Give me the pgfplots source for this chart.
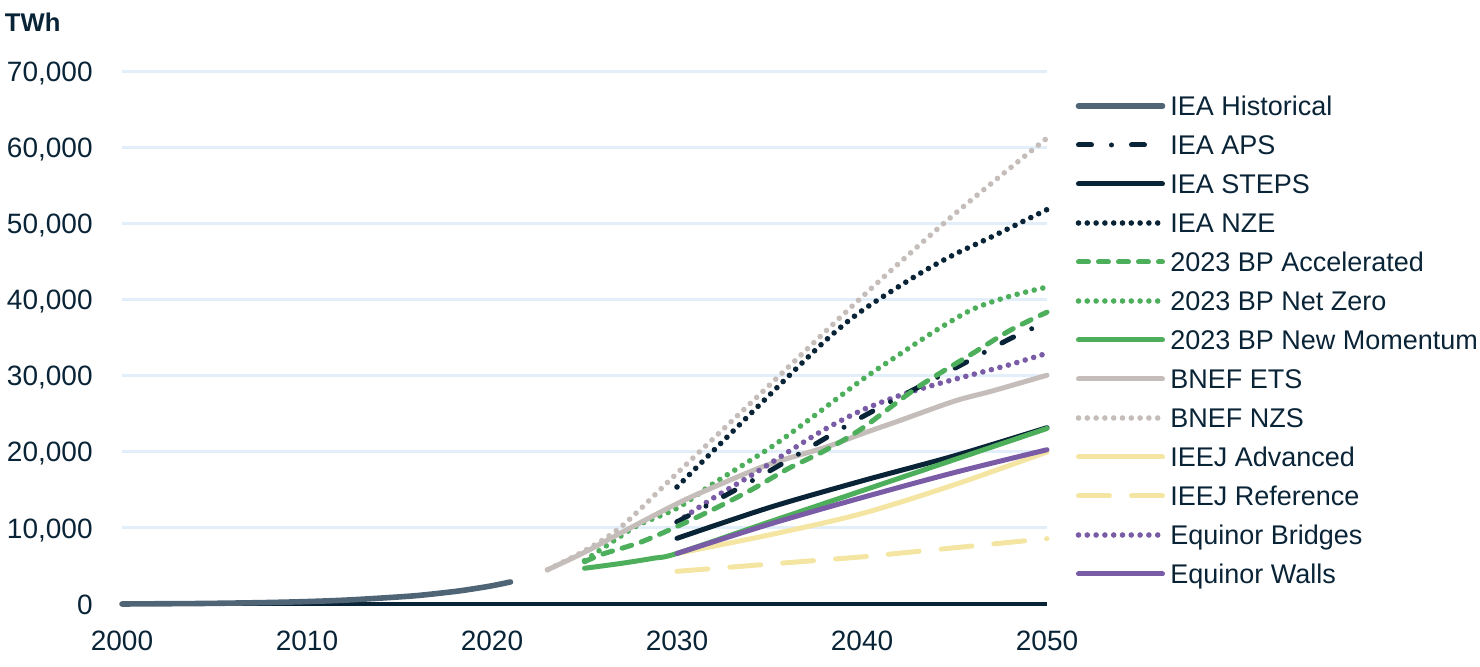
\documentclass[border=0pt]{standalone}
\usepackage{fontspec}
\setmainfont{Liberation Sans}
\usepackage{pgfplots}
\pgfplotsset{compat=1.18}
\definecolor{navy}{HTML}{0A2437}
\definecolor{slate}{HTML}{4F6576}
\definecolor{bpgreen}{HTML}{4DAF5B}
\definecolor{bnefgray}{HTML}{C4BDB9}
\definecolor{ieejyellow}{HTML}{F4E6A2}
\definecolor{eqpurple}{HTML}{7A5BA6}
\definecolor{gridblue}{HTML}{E2EEFA}
\tikzset{
  solidl/.style={line width=2.5bp, solid, line cap=round, line join=round},
  dotl/.style={line width=2.8bp, line cap=round, dash pattern=on 0bp off 4.4bp},
  dashl/.style={line width=2.5bp, line cap=round, dash pattern=on 5bp off 5bp},
  dashdotl/.style={line width=2.5bp, line cap=round, dash pattern=on 6.5bp off 10bp on 0bp off 10bp},
  longdashl/.style={line width=2.5bp, line cap=round, dash pattern=on 15.5bp off 11bp},
}
\begin{document}
\begin{tikzpicture}
\path[use as bounding box] (0,0) rectangle (740bp,333.5bp);
\node[anchor=base west, inner sep=0pt, text=navy, font=\fontsize{12.8bp}{14bp}\selectfont\bfseries] at (2.3bp,317.5bp) {TWh};
\begin{axis}[
  at={(61bp,31.5bp)}, anchor=south west,
  scale only axis, width=462.5bp, height=266bp,
  xmin=2000, xmax=2050, ymin=0, ymax=70000,
  xtick={2000,2010,...,2050}, ytick={0,10000,...,70000},
  scaled y ticks=false,
  axis lines*=left,
  y axis line style={draw=none},
  x axis line style={navy, line width=1.8bp, line cap=butt},
  major tick length=0pt,
  ymajorgrids, grid style={gridblue, line width=1.5bp, line cap=butt},
  clip=false,
  /pgf/number format/assume math mode=true,
  tick label style={font=\fontsize{14bp}{16bp}\selectfont, text=navy, inner sep=0pt, text height=10bp, text depth=0pt},
  yticklabel style={anchor=east, xshift=-14.5bp, /pgf/number format/1000 sep={,}},
  xticklabel style={anchor=north, yshift=-13bp, /pgf/number format/1000 sep={}},
  legend cell align=left,
  legend image code/.code={\draw[#1] (0bp,0bp) -- (42bp,0bp);},
  legend style={at={(axis description cs:1.031,0.9549)}, anchor=north west, draw=none, fill=none,
    inner sep=0pt, outer sep=0pt, row sep=9.5bp, column sep=2.5bp,
    font=\fontsize{13.5bp}{16bp}\selectfont,
    nodes={inner sep=0pt, text height=10bp, text depth=0pt, text=navy}},
]
% IEA Historical
\addplot[forget plot, slate, solidl, line width=2.8bp, smooth] coordinates {(2000,0) (2002,30) (2004,60) (2006,120) (2008,200) (2010,320) (2012,500) (2014,780) (2016,1120) (2018,1650) (2019,2000) (2020,2400) (2021,2900)};
% IEEJ Reference
\addplot[forget plot, ieejyellow, longdashl] coordinates {(2030,4300) (2040,6200) (2050,8600)};
% IEEJ Advanced
\addplot[forget plot, ieejyellow, solidl, smooth] coordinates {(2030,6650) (2035,9100) (2040,11900) (2045,15700) (2050,20000)};
% BNEF NZS
\addplot[forget plot, bnefgray, dotl, smooth] coordinates {(2023,4500) (2025,7000) (2027,10200) (2030,17200) (2035,28800) (2040,40400) (2045,51300) (2050,61300)};
% BP Net Zero
\addplot[forget plot, bpgreen, dotl, smooth] coordinates {(2025,5700) (2027,9000) (2028,10500) (2030,12600) (2032,15900) (2035,20500) (2037,24000) (2040,29500) (2042,32800) (2044,36000) (2046,38800) (2048,40500) (2050,41700)};
% BNEF ETS
\addplot[forget plot, bnefgray, solidl, smooth] coordinates {(2023,4500) (2025,6800) (2027,9400) (2030,13200) (2032,15400) (2035,18400) (2038,20600) (2040,22400) (2042,24100) (2045,26700) (2047,28000) (2050,30100)};
% Equinor Bridges
\addplot[forget plot, eqpurple, dotl, smooth] coordinates {(2030,10800) (2032,14000) (2034,16900) (2036,20000) (2038,23000) (2040,25500) (2042,27400) (2044,28900) (2046,30200) (2048,31500) (2050,33000)};
% IEA APS
\addplot[forget plot, navy, dashdotl, smooth] coordinates {(2030,10800) (2035,17500) (2040,24600) (2045,31000) (2048,34900) (2050,37100)};
% BP Accelerated
\addplot[forget plot, bpgreen, dashl, smooth] coordinates {(2025,5560) (2026,6580) (2028,8100) (2030,10200) (2032,12500) (2034,15000) (2036,17800) (2038,20200) (2040,23100) (2043,28500) (2046,33000) (2048,36000) (2050,38400)};
% IEA NZE
\addplot[forget plot, navy, dotl, smooth] coordinates {(2030,15400) (2035,27500) (2038,34600) (2040,38600) (2043,43300) (2045,46000) (2047,48300) (2050,51900)};
% IEA STEPS
\addplot[forget plot, navy, solidl, smooth] coordinates {(2030,8640) (2035,12700) (2040,16200) (2045,19500) (2050,23200)};
% BP New Momentum
\addplot[forget plot, bpgreen, solidl, smooth] coordinates {(2025,4700) (2027,5350) (2028.7,6010) (2030,6650) (2035,10800) (2040,14900) (2045,19000) (2050,23100)};
% Equinor Walls
\addplot[forget plot, eqpurple, solidl, smooth] coordinates {(2030,6650) (2035,10500) (2040,14000) (2045,17300) (2050,20300)};

\addlegendimage{slate, solidl, line width=2.8bp}\addlegendentry{IEA Historical}
\addlegendimage{navy, dashdotl}\addlegendentry{IEA APS}
\addlegendimage{navy, solidl}\addlegendentry{IEA STEPS}
\addlegendimage{navy, dotl}\addlegendentry{IEA NZE}
\addlegendimage{bpgreen, dashl}\addlegendentry{2023 BP Accelerated}
\addlegendimage{bpgreen, dotl}\addlegendentry{2023 BP Net Zero}
\addlegendimage{bpgreen, solidl}\addlegendentry{2023 BP New Momentum}
\addlegendimage{bnefgray, solidl}\addlegendentry{BNEF ETS}
\addlegendimage{bnefgray, dotl}\addlegendentry{BNEF NZS}
\addlegendimage{ieejyellow, solidl}\addlegendentry{IEEJ Advanced}
\addlegendimage{ieejyellow, longdashl}\addlegendentry{IEEJ Reference}
\addlegendimage{eqpurple, dotl}\addlegendentry{Equinor Bridges}
\addlegendimage{eqpurple, solidl}\addlegendentry{Equinor Walls}
\end{axis}
\end{tikzpicture}
\end{document}
